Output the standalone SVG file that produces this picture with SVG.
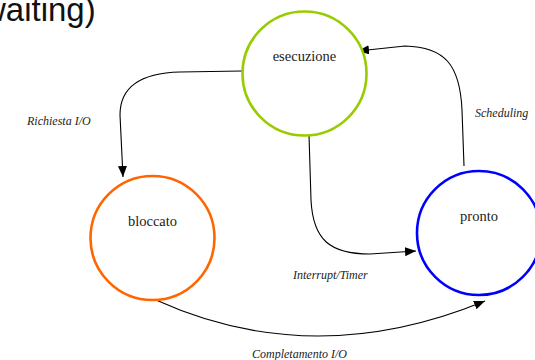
<svg xmlns="http://www.w3.org/2000/svg" width="535" height="360" viewBox="0 0 535 360">
<style>
.node{fill:#fff;stroke-width:2.6}
.nl{font-family:"Liberation Serif",serif;font-size:14.5px;fill:#222;text-anchor:middle}
.el{font-family:"Liberation Serif",serif;font-size:12px;font-style:italic;fill:#222}
.edge{fill:none;stroke:#000;stroke-width:1.1}
.title{font-family:"Liberation Sans",sans-serif;font-size:33px;fill:#111}
</style>
<defs>
<marker id="ah" markerUnits="userSpaceOnUse" markerWidth="12" markerHeight="10" refX="11" refY="4.5" orient="auto">
<path d="M0,0 L11,4.5 L0,9 z" fill="#000"/>
</marker>
</defs>
<rect width="535" height="360" fill="#fff"/>
<text class="title" x="-18" y="21">waiting)</text>
<g id="connectors">
<path class="edge" d="M 242 71 L 180 72 C 140 73, 120 88, 120 115 L 123 177" marker-end="url(#ah)"/>
<path class="edge" d="M 464 166 L 462 110 C 460 65, 445 47, 405 46 L 358 51" marker-end="url(#ah)"/>
<path class="edge" d="M 309 135 L 311 200 C 313 240, 330 254, 370 254 L 416 251" marker-end="url(#ah)"/>
<path class="edge" d="M 156 300 Q 313.5 371.5 485 301" marker-end="url(#ah)"/>
<text class="el" x="27" y="125">Richiesta I/O</text>
<text class="el" x="475" y="117">Scheduling</text>
<text class="el" x="293" y="279">Interrupt/Timer</text>
<text class="el" x="252" y="358">Completamento I/O</text>
</g>
<g id="esecuzione">
<circle class="node" cx="304.5" cy="73.5" r="62" stroke="#99cc00"/>
<text class="nl" x="304.5" y="61">esecuzione</text>
</g>
<g id="bloccato">
<circle class="node" cx="152.5" cy="238" r="62" stroke="#ff6600"/>
<text class="nl" x="152.5" y="226">bloccato</text>
</g>
<g id="pronto">
<circle class="node" cx="479" cy="233" r="62" stroke="#0000ff"/>
<text class="nl" x="479" y="221">pronto</text>
</g>
</svg>
